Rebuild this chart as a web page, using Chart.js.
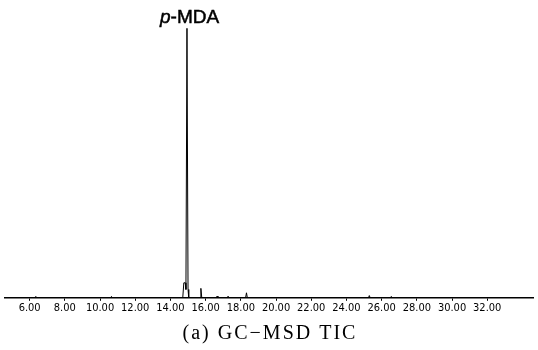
<!DOCTYPE html>
<html>
<head>
<meta charset="utf-8">
<script src="https://cdn.jsdelivr.net/npm/chart.js@4.4.1/dist/chart.umd.min.js"></script>
<style>
  html, body { margin: 0; background: #fff; }
  #wrap { width: 538px; height: 350px; }
</style>
</head>
<body>
<div id="wrap"><canvas id="myChart"></canvas></div>
<script>
// retention time (min) and TIC response (% of plot height)
const retTimes = [4.6, 6.30, 6.35, 6.40, 10.60, 10.65, 10.70,
    14.70, 14.76, 14.84, 14.88, 14.94, 15.00, 15.04,
    15.68, 15.73, 15.78, 16.60, 16.65, 16.70, 17.22, 17.27, 17.32,
    18.27, 18.32, 18.37, 25.25, 25.30, 25.35, 26.50, 26.55, 26.60, 34.6];
const response = [0, 0, 0.5, 0, 0, 0.5, 0,
    0, 5.4, 5.4, 3, 97, 3, 0,
    0, 3.4, 0, 0, 0.6, 0, 0, 0.6, 0,
    0, 1.8, 0, 0, 0.8, 0, 0, 0.5, 0, 0];
const tickValues = [6, 8, 10, 12, 14, 16, 18, 20, 22, 24, 26, 28, 30, 32];
const peakTime = 14.94;
const peakName = '-MDA';
const caption = '(a) GC\u2212MSD TIC';

// text drawn on top: peak name and caption
const labels = {
    id: 'labels',
    afterDraw(chart) {
        const ctx = chart.ctx;
        const x = chart.scales.x.getPixelForValue(peakTime);
        ctx.save();
        ctx.fillStyle = '#000';
        ctx.strokeStyle = '#000';
        ctx.lineWidth = 0.5;
        ctx.textBaseline = 'alphabetic';
        ctx.font = 'italic 19px "Liberation Sans", Arial, sans-serif';
        const px = x - 27;
        ctx.fillText('p', px, 23);
        ctx.strokeText('p', px, 23);
        const pw = ctx.measureText('p').width;
        ctx.font = '19px "Liberation Sans", Arial, sans-serif';
        ctx.fillText(peakName, px + pw, 23);
        ctx.strokeText(peakName, px + pw, 23);
        ctx.font = '20px "Liberation Serif", "DejaVu Serif", serif';
        ctx.letterSpacing = '2px';
        ctx.textAlign = 'center';
        ctx.fillText(caption, 270, 339);
        ctx.restore();
    }
};

const config = {
    type: 'line',
    data: {
        datasets: [{
            data: retTimes.map((t, i) => ({ x: t, y: response[i] })),
            borderColor: '#000',
            borderWidth: 1,
            pointRadius: 0,
            tension: 0
        }]
    },
    options: {
        responsive: true,
        maintainAspectRatio: false,
        animation: false,
        layout: { padding: { left: 5, right: 5, top: 20, bottom: 34 } },
        plugins: { legend: { display: false }, tooltip: { enabled: false } },
        scales: {
            x: {
                type: 'linear',
                min: 4.6,
                max: 34.6,
                afterBuildTicks: (axis) => {
                    axis.ticks = tickValues.map(v => ({ value: v }));
                },
                ticks: {
                    callback: (v) => Number(v).toFixed(2),
                    maxRotation: 0,
                    autoSkip: false,
                    color: '#000',
                    padding: 1,
                    font: { family: '"Liberation Sans Narrow", "DejaVu Sans Condensed", sans-serif', size: 11 }
                },
                grid: { drawOnChartArea: false, tickLength: 3, color: '#000' },
                border: { color: '#000', width: 1.5 }
            },
            y: { display: false, min: 0, max: 100 }
        }
    },
    plugins: [labels]
};

const myChart = new Chart(document.getElementById('myChart'), config);
</script>
</body>
</html>
